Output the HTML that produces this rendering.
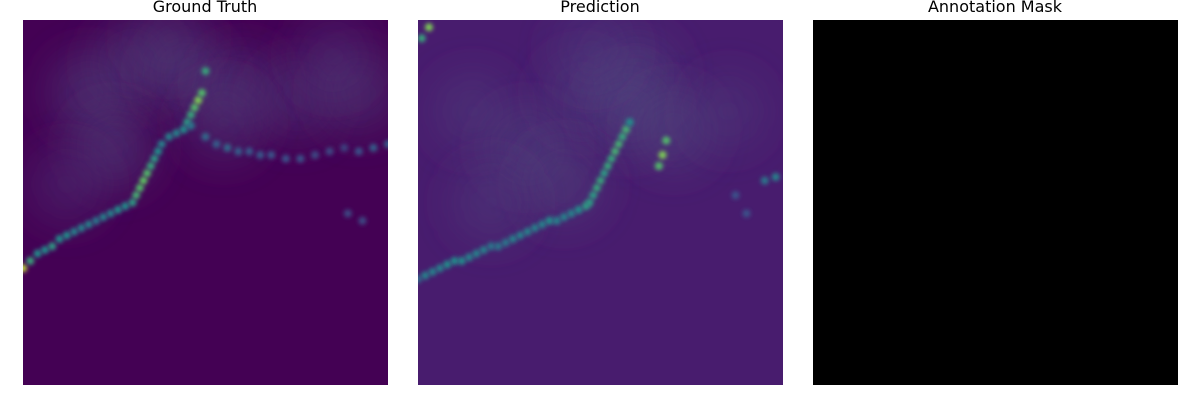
<!DOCTYPE html>
<html><head><meta charset="utf-8">
<style>
html,body{margin:0;padding:0;background:#fff;width:1200px;height:400px;overflow:hidden;font-family:"DejaVu Sans","Liberation Sans",sans-serif;}
</style></head>
<body>
<svg id="chart" width="1200" height="400">
<defs>
<filter id="blurS" x="-100%" y="-100%" width="300%" height="300%"><feGaussianBlur stdDeviation="2"/></filter>
<filter id="blurL" x="-100%" y="-100%" width="300%" height="300%"><feGaussianBlur stdDeviation="20"/></filter>
<clipPath id="c0"><rect x="23" y="20" width="365" height="365"/></clipPath>
<clipPath id="c1"><rect x="418" y="20" width="365" height="365"/></clipPath>
</defs>
<text x="205" y="12" text-anchor="middle" font-size="16">Ground Truth</text>
<text x="600" y="12" text-anchor="middle" font-size="16">Prediction</text>
<text x="995" y="12" text-anchor="middle" font-size="16">Annotation Mask</text>
<rect x="23" y="20" width="365" height="365" fill="#440154"/>
<rect x="418" y="20" width="365" height="365" fill="#481c6e"/>
<rect x="813" y="20" width="365" height="365" fill="#000000"/>
<g id="g0" clip-path="url(#c0)"></g>
<g id="g1" clip-path="url(#c1)"></g>
</svg>
<script>
// Ground truth front (percent of image) and intensities
const gtX=[0,2,4,6,8,10,12,14,16,18,20,22,24,26,28,30,31,32,33,34,35,36,37,38,40,42,44,45,46,47,48,49,50,46,50,53,56,59,62,65,68,72,76,80,84,88,92,96,100,89,93];
const gtY=[68,66,64,63,62,60,59,58,57,56,55,54,53,52,51,50,48,46,44,42,40,38,36,34,32,31,30,28,26,24,22,20,14,29,32,34,35,36,36,37,37,38,38,37,36,35,36,35,34,53,55];
const gtV=[0.9,0.6,0.5,0.5,0.55,0.5,0.5,0.45,0.45,0.45,0.4,0.45,0.45,0.5,0.5,0.55,0.65,0.7,0.75,0.7,0.6,0.55,0.5,0.45,0.45,0.45,0.5,0.55,0.6,0.7,0.8,0.7,0.6,0.4,0.35,0.3,0.35,0.3,0.28,0.28,0.26,0.25,0.25,0.22,0.22,0.2,0.25,0.3,0.3,0.22,0.22];
const gtCloudX=[18,30,45,60,75,92,25,12,40,55,85];
const gtCloudY=[20,12,15,18,22,20,35,45,5,28,10];
const gtCloudV=[0.5,0.45,0.5,0.4,0.4,0.45,0.5,0.35,0.3,0.4,0.35];
// Prediction
const prX=[0,2,4,6,8,10,12,14,16,18,20,22,24,26,28,30,32,34,36,38,40,42,44,46,47,48,49,50,51,52,53,54,55,56,57,58,66,67,68,1,3,95,98,90,87];
const prY=[71,70,69,68,67,66,66,65,64,63,62,62,61,60,59,58,57,56,55,55,54,53,52,51,50,48,46,44,42,40,38,36,34,32,30,28,40,37,33,5,2,44,43,53,48];
const prV=[0.35,0.45,0.45,0.45,0.5,0.5,0.5,0.45,0.45,0.45,0.4,0.4,0.4,0.45,0.45,0.45,0.45,0.45,0.5,0.45,0.45,0.45,0.5,0.55,0.55,0.55,0.6,0.6,0.55,0.6,0.6,0.65,0.65,0.6,0.65,0.5,0.7,0.8,0.7,0.6,0.8,0.4,0.45,0.25,0.25];
const prCloudX=[15,30,45,60,58,70,40,20,48,85];
const prCloudY=[25,35,20,15,25,30,45,50,8,25];
const prCloudV=[0.4,0.5,0.4,0.5,0.55,0.5,0.45,0.4,0.35,0.3];

const stops=[[68,1,84],[59,82,139],[33,145,140],[94,201,98],[253,231,37]];
function viridis(v){v=Math.max(0,Math.min(1,v));const p=v*(stops.length-1);const i=Math.min(stops.length-2,Math.floor(p));const t=p-i;
const a=stops[i],b=stops[i+1];return `rgb(${a.map((c,k)=>Math.round(c+(b[k]-c)*t)).join(',')})`;}
const NS='http://www.w3.org/2000/svg';
function xs(x0,v){return x0+v/100*365;}
function ys(v){return 20+v/100*365;}
function drawFront(gid,x0,X,Y,V,name){
  const g=document.getElementById(gid);
  for(let i=0;i<X.length;i++){
    const c=document.createElementNS(NS,'circle');
    c.setAttribute('cx',xs(x0,X[i]));c.setAttribute('cy',ys(Y[i]));c.setAttribute('r',4);
    c.setAttribute('fill',viridis(V[i]));c.setAttribute('filter','url(#blurS)');
    
    
    g.appendChild(c);
  }
}
function drawCloud(gid,x0,X,Y,V,name){
  const g=document.getElementById(gid);
  for(let i=0;i<X.length;i++){
    const c=document.createElementNS(NS,'circle');
    c.setAttribute('cx',xs(x0,X[i]));c.setAttribute('cy',ys(Y[i]));c.setAttribute('r',40);
    c.setAttribute('fill','rgb(80,70,125)');c.setAttribute('fill-opacity',V[i]);
    c.setAttribute('filter','url(#blurL)');
    
    
    g.appendChild(c);
  }
}
drawCloud('g0',23,gtCloudX,gtCloudY,gtCloudV,'gt-cloud-cell');
drawFront('g0',23,gtX,gtY,gtV,'gt-front-cell');
drawCloud('g1',418,prCloudX,prCloudY,prCloudV,'pred-cloud-cell');
drawFront('g1',418,prX,prY,prV,'pred-front-cell');
</script>
</body></html>
